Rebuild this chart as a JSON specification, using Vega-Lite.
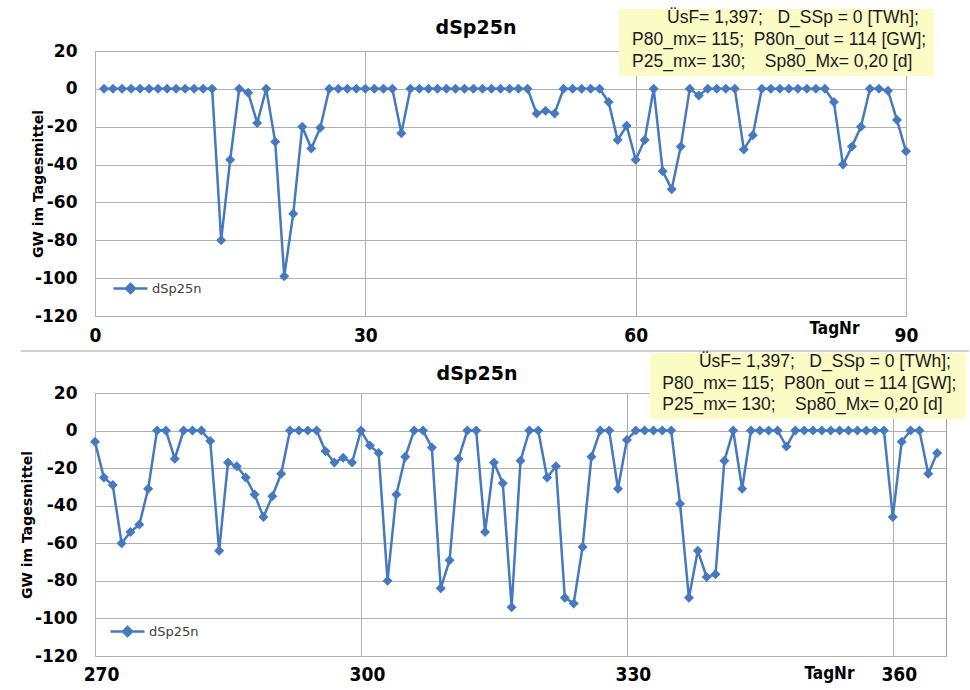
{
  "$schema": "https://vega.github.io/schema/vega-lite/v6.json",
  "background": "white",
  "padding": {"left": 19, "top": 8, "right": 0, "bottom": 0},
  "spacing": 4,
  "resolve": {"scale": {"color": "independent"}, "legend": {"color": "independent"}},
  "datasets": {
    "q1": [
      {"TagNr":1,"dSp25n":0},{"TagNr":2,"dSp25n":0},{"TagNr":3,"dSp25n":0},{"TagNr":4,"dSp25n":0},{"TagNr":5,"dSp25n":0},
      {"TagNr":6,"dSp25n":0},{"TagNr":7,"dSp25n":0},{"TagNr":8,"dSp25n":0},{"TagNr":9,"dSp25n":0},{"TagNr":10,"dSp25n":0},
      {"TagNr":11,"dSp25n":0},{"TagNr":12,"dSp25n":0},{"TagNr":13,"dSp25n":0},{"TagNr":14,"dSp25n":-80},{"TagNr":15,"dSp25n":-37.5},
      {"TagNr":16,"dSp25n":0},{"TagNr":17,"dSp25n":-2},{"TagNr":18,"dSp25n":-18},{"TagNr":19,"dSp25n":0},{"TagNr":20,"dSp25n":-28},
      {"TagNr":21,"dSp25n":-99},{"TagNr":22,"dSp25n":-66},{"TagNr":23,"dSp25n":-20},{"TagNr":24,"dSp25n":-31.5},{"TagNr":25,"dSp25n":-20.5},
      {"TagNr":26,"dSp25n":0},{"TagNr":27,"dSp25n":0},{"TagNr":28,"dSp25n":0},{"TagNr":29,"dSp25n":0},{"TagNr":30,"dSp25n":0},
      {"TagNr":31,"dSp25n":0},{"TagNr":32,"dSp25n":0},{"TagNr":33,"dSp25n":0},{"TagNr":34,"dSp25n":-23.5},{"TagNr":35,"dSp25n":0},
      {"TagNr":36,"dSp25n":0},{"TagNr":37,"dSp25n":0},{"TagNr":38,"dSp25n":0},{"TagNr":39,"dSp25n":0},{"TagNr":40,"dSp25n":0},
      {"TagNr":41,"dSp25n":0},{"TagNr":42,"dSp25n":0},{"TagNr":43,"dSp25n":0},{"TagNr":44,"dSp25n":0},{"TagNr":45,"dSp25n":0},
      {"TagNr":46,"dSp25n":0},{"TagNr":47,"dSp25n":0},{"TagNr":48,"dSp25n":0},{"TagNr":49,"dSp25n":-13},{"TagNr":50,"dSp25n":-11.5},
      {"TagNr":51,"dSp25n":-13},{"TagNr":52,"dSp25n":0},{"TagNr":53,"dSp25n":0},{"TagNr":54,"dSp25n":0},{"TagNr":55,"dSp25n":0},
      {"TagNr":56,"dSp25n":0},{"TagNr":57,"dSp25n":-7},{"TagNr":58,"dSp25n":-27},{"TagNr":59,"dSp25n":-19.5},{"TagNr":60,"dSp25n":-37.5},
      {"TagNr":61,"dSp25n":-27},{"TagNr":62,"dSp25n":0},{"TagNr":63,"dSp25n":-43.5},{"TagNr":64,"dSp25n":-53},{"TagNr":65,"dSp25n":-30.5},
      {"TagNr":66,"dSp25n":0},{"TagNr":67,"dSp25n":-3.5},{"TagNr":68,"dSp25n":0},{"TagNr":69,"dSp25n":0},{"TagNr":70,"dSp25n":0},
      {"TagNr":71,"dSp25n":0},{"TagNr":72,"dSp25n":-32},{"TagNr":73,"dSp25n":-24.5},{"TagNr":74,"dSp25n":0},{"TagNr":75,"dSp25n":0},
      {"TagNr":76,"dSp25n":0},{"TagNr":77,"dSp25n":0},{"TagNr":78,"dSp25n":0},{"TagNr":79,"dSp25n":0},{"TagNr":80,"dSp25n":0},
      {"TagNr":81,"dSp25n":0},{"TagNr":82,"dSp25n":-7},{"TagNr":83,"dSp25n":-40},{"TagNr":84,"dSp25n":-30.5},{"TagNr":85,"dSp25n":-20},
      {"TagNr":86,"dSp25n":0},{"TagNr":87,"dSp25n":0},{"TagNr":88,"dSp25n":-1},{"TagNr":89,"dSp25n":-16.5},{"TagNr":90,"dSp25n":-33}
    ],
    "q4": [
      {"TagNr":270,"dSp25n":-6},{"TagNr":271,"dSp25n":-25},{"TagNr":272,"dSp25n":-29},{"TagNr":273,"dSp25n":-60},{"TagNr":274,"dSp25n":-54},
      {"TagNr":275,"dSp25n":-50},{"TagNr":276,"dSp25n":-31},{"TagNr":277,"dSp25n":0},{"TagNr":278,"dSp25n":0},{"TagNr":279,"dSp25n":-15},
      {"TagNr":280,"dSp25n":0},{"TagNr":281,"dSp25n":0},{"TagNr":282,"dSp25n":0},{"TagNr":283,"dSp25n":-5.5},{"TagNr":284,"dSp25n":-64},
      {"TagNr":285,"dSp25n":-17},{"TagNr":286,"dSp25n":-19},{"TagNr":287,"dSp25n":-25},{"TagNr":288,"dSp25n":-34},{"TagNr":289,"dSp25n":-46},
      {"TagNr":290,"dSp25n":-35},{"TagNr":291,"dSp25n":-23},{"TagNr":292,"dSp25n":0},{"TagNr":293,"dSp25n":0},{"TagNr":294,"dSp25n":0},
      {"TagNr":295,"dSp25n":0},{"TagNr":296,"dSp25n":-11},{"TagNr":297,"dSp25n":-17},{"TagNr":298,"dSp25n":-14.5},{"TagNr":299,"dSp25n":-17},
      {"TagNr":300,"dSp25n":0},{"TagNr":301,"dSp25n":-8},{"TagNr":302,"dSp25n":-12},{"TagNr":303,"dSp25n":-80},{"TagNr":304,"dSp25n":-34},
      {"TagNr":305,"dSp25n":-14},{"TagNr":306,"dSp25n":0},{"TagNr":307,"dSp25n":0},{"TagNr":308,"dSp25n":-9},{"TagNr":309,"dSp25n":-84},
      {"TagNr":310,"dSp25n":-69},{"TagNr":311,"dSp25n":-15},{"TagNr":312,"dSp25n":0},{"TagNr":313,"dSp25n":0},{"TagNr":314,"dSp25n":-54},
      {"TagNr":315,"dSp25n":-17},{"TagNr":316,"dSp25n":-28},{"TagNr":317,"dSp25n":-94},{"TagNr":318,"dSp25n":-16},{"TagNr":319,"dSp25n":0},
      {"TagNr":320,"dSp25n":0},{"TagNr":321,"dSp25n":-25},{"TagNr":322,"dSp25n":-19},{"TagNr":323,"dSp25n":-89},{"TagNr":324,"dSp25n":-92},
      {"TagNr":325,"dSp25n":-62},{"TagNr":326,"dSp25n":-14},{"TagNr":327,"dSp25n":0},{"TagNr":328,"dSp25n":0},{"TagNr":329,"dSp25n":-31},
      {"TagNr":330,"dSp25n":-5},{"TagNr":331,"dSp25n":0},{"TagNr":332,"dSp25n":0},{"TagNr":333,"dSp25n":0},{"TagNr":334,"dSp25n":0},
      {"TagNr":335,"dSp25n":0},{"TagNr":336,"dSp25n":-39},{"TagNr":337,"dSp25n":-89},{"TagNr":338,"dSp25n":-64},{"TagNr":339,"dSp25n":-78},
      {"TagNr":340,"dSp25n":-76.5},{"TagNr":341,"dSp25n":-16},{"TagNr":342,"dSp25n":0},{"TagNr":343,"dSp25n":-31},{"TagNr":344,"dSp25n":0},
      {"TagNr":345,"dSp25n":0},{"TagNr":346,"dSp25n":0},{"TagNr":347,"dSp25n":0},{"TagNr":348,"dSp25n":-8.5},{"TagNr":349,"dSp25n":0},
      {"TagNr":350,"dSp25n":0},{"TagNr":351,"dSp25n":0},{"TagNr":352,"dSp25n":0},{"TagNr":353,"dSp25n":0},{"TagNr":354,"dSp25n":0},
      {"TagNr":355,"dSp25n":0},{"TagNr":356,"dSp25n":0},{"TagNr":357,"dSp25n":0},{"TagNr":358,"dSp25n":0},{"TagNr":359,"dSp25n":0},
      {"TagNr":360,"dSp25n":-46},{"TagNr":361,"dSp25n":-6},{"TagNr":362,"dSp25n":0},{"TagNr":363,"dSp25n":0},{"TagNr":364,"dSp25n":-23},
      {"TagNr":365,"dSp25n":-12}
    ],
    "box": [{"note": "Kennwerte"}]
  },
  "config": {
    "locale": {"number": {"decimal": ",", "thousands": ".", "grouping": [3], "currency": ["", " €"], "minus": "-"}},
    "view": {"stroke": "#a0a0a0", "strokeWidth": 1},
    "axis": {"gridColor": "#b0b0b0", "gridWidth": 1, "domain": false, "ticks": false, "tickSize": 0, "labelColor": "#000000", "titleColor": "#000000", "grid": true, "labelOverlap": false, "labelFlush": false, "labelBound": false},
    "axisY": {"labelFont": "DejaVu Sans", "labelFontSize": 17, "labelFontWeight": "bold", "labelPadding": 18, "titleFont": "DejaVu Sans", "titleFontSize": 14, "titleFontWeight": "bold", "tickCount": 12},
    "axisX": {"labelFont": "Liberation Sans Narrow, DejaVu Sans Condensed, Liberation Sans", "labelFontSize": 19, "labelFontWeight": "bold", "titleFont": "Liberation Sans Narrow, DejaVu Sans Condensed, Liberation Sans", "titleFontSize": 17, "titleFontWeight": "bold", "titleAlign": "center", "titleBaseline": "alphabetic"},
    "legend": {"orient": "bottom-left", "padding": 0, "labelFont": "DejaVu Sans", "labelFontSize": 13, "labelColor": "#404040", "labelOffset": 3, "symbolType": "M-1,0H1M0,-0.27L0.27,0L0,0.27L-0.27,0Z", "symbolSize": 1156, "symbolStrokeWidth": 2.5, "symbolFillColor": "#4579c0", "symbolStrokeColor": "#4579c0"},
    "title": {"font": "DejaVu Sans", "fontSize": 19, "fontWeight": "bold", "color": "#000000", "frame": "group", "anchor": "middle", "baseline": "alphabetic"},
    "text": {"font": "Liberation Sans", "fontSize": 17.5, "color": "#1a1a1a", "align": "left", "baseline": "middle"}
  },
  "vconcat": [
    {
      "width": 811,
      "height": 265,
      "title": {"text": "dSp25n", "dx": -24.5, "offset": -29.5},
      "layer": [
        {
          "data": {"name": "q1"},
          "mark": {"type": "line", "strokeWidth": 2.5},
          "encoding": {
            "x": {"field": "TagNr", "type": "quantitative", "scale": {"domain": [0, 90], "nice": false, "zero": false},
                  "axis": {"values": [0, 30, 60, 90], "title": "TagNr", "titleX": 739, "titleY": 17, "labelPadding": 10}},
            "y": {"field": "dSp25n", "type": "quantitative", "scale": {"domain": [-120, 20], "nice": false},
                  "axis": {"values": [-120, -100, -80, -60, -40, -20, 0, 20], "tickCount": 12, "title": "GW im Tagesmittel", "titleX": -50}},
            "color": {"datum": "dSp25n", "scale": {"range": ["#4579c0"]}, "legend": {"title": null, "offset": 17}}
          }
        },
        {
          "data": {"name": "q1"},
          "mark": {"type": "point", "shape": "diamond", "filled": true, "size": 100, "opacity": 1, "color": "#4579c0"},
          "encoding": {
            "x": {"field": "TagNr", "type": "quantitative"},
            "y": {"field": "dSp25n", "type": "quantitative"}
          }
        },
        {
          "data": {"name": "box"},
          "mark": {"type": "rect", "color": "#fbfbc6"},
          "encoding": {
            "x": {"datum": 58.15, "type": "quantitative"},
            "x2": {"datum": 93.1},
            "y": {"datum": 42.2, "type": "quantitative"},
            "y2": {"datum": 6.8}
          }
        },
        {
          "data": {"name": "box"},
          "mark": {"type": "text", "text": "ÜsF= 1,397;\u00a0\u00a0 D_SSp = 0 [TWh];"},
          "encoding": {"x": {"datum": 63.48, "type": "quantitative"}, "y": {"datum": 37.43, "type": "quantitative"}}
        },
        {
          "data": {"name": "box"},
          "mark": {"type": "text", "text": "P80_mx= 115;\u00a0 P80n_out = 114 [GW];"},
          "encoding": {"x": {"datum": 59.6, "type": "quantitative"}, "y": {"datum": 25.81, "type": "quantitative"}}
        },
        {
          "data": {"name": "box"},
          "mark": {"type": "text", "text": "P25_mx= 130;\u00a0\u00a0\u00a0 Sp80_Mx= 0,20 [d]"},
          "encoding": {"x": {"datum": 59.6, "type": "quantitative"}, "y": {"datum": 14.45, "type": "quantitative"}}
        }
      ]
    },
    {
      "width": 851,
      "height": 263,
      "title": {"text": "dSp25n", "dx": -43.5, "offset": -33.5},
      "layer": [
        {
          "data": {"name": "q4"},
          "mark": {"type": "line", "strokeWidth": 2.5},
          "encoding": {
            "x": {"field": "TagNr", "type": "quantitative", "scale": {"domain": [270, 366], "nice": false, "zero": false},
                  "axis": {"values": [270, 300, 330, 360], "title": "TagNr", "titleX": 734, "titleY": 22, "labelPadding": 9, "labelOffset": 6}},
            "y": {"field": "dSp25n", "type": "quantitative", "scale": {"domain": [-120, 20], "nice": false},
                  "axis": {"values": [-120, -100, -80, -60, -40, -20, 0, 20], "tickCount": 12, "title": "GW im Tagesmittel", "titleX": -61}},
            "color": {"datum": "dSp25n", "scale": {"range": ["#4579c0"]}, "legend": {"title": null, "offset": 14}}
          }
        },
        {
          "data": {"name": "q4"},
          "mark": {"type": "point", "shape": "diamond", "filled": true, "size": 100, "opacity": 1, "color": "#4579c0"},
          "encoding": {
            "x": {"field": "TagNr", "type": "quantitative"},
            "y": {"field": "dSp25n", "type": "quantitative"}
          }
        },
        {
          "data": {"name": "box"},
          "mark": {"type": "rule", "color": "#a0a0a0", "strokeWidth": 1},
          "encoding": {
            "x": {"datum": 261.65, "type": "quantitative"},
            "x2": {"datum": 368.6},
            "y": {"datum": 42.35, "type": "quantitative"}
          }
        },
        {
          "data": {"name": "box"},
          "mark": {"type": "rect", "color": "#fbfbc6"},
          "encoding": {
            "x": {"datum": 332.6, "type": "quantitative"},
            "x2": {"datum": 368.25},
            "y": {"datum": 41.3, "type": "quantitative"},
            "y2": {"datum": 6.2}
          }
        },
        {
          "data": {"name": "box"},
          "mark": {"type": "text", "text": "ÜsF= 1,397;\u00a0\u00a0 D_SSp = 0 [TWh];"},
          "encoding": {"x": {"datum": 338.13, "type": "quantitative"}, "y": {"datum": 36.5, "type": "quantitative"}}
        },
        {
          "data": {"name": "box"},
          "mark": {"type": "text", "text": "P80_mx= 115;\u00a0 P80n_out = 114 [GW];"},
          "encoding": {"x": {"datum": 334.0, "type": "quantitative"}, "y": {"datum": 24.79, "type": "quantitative"}}
        },
        {
          "data": {"name": "box"},
          "mark": {"type": "text", "text": "P25_mx= 130;\u00a0\u00a0\u00a0 Sp80_Mx= 0,20 [d]"},
          "encoding": {"x": {"datum": 334.0, "type": "quantitative"}, "y": {"datum": 13.61, "type": "quantitative"}}
        }
      ]
    }
  ]
}
